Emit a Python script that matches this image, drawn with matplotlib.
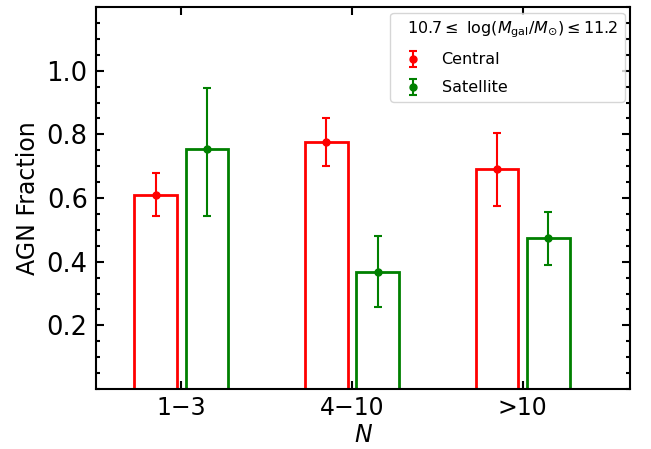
import matplotlib
matplotlib.use("Agg")
import matplotlib.pyplot as plt
import numpy as np
from matplotlib.ticker import MultipleLocator

categories = ["1\u22123", "4\u221210", ">10"]
central = [0.610, 0.777, 0.690]
central_lo = [0.542, 0.701, 0.575]
central_hi = [0.678, 0.851, 0.804]
satellite = [0.753, 0.369, 0.473]
satellite_lo = [0.544, 0.259, 0.391]
satellite_hi = [0.946, 0.480, 0.556]

x = np.arange(len(categories))
w = 0.25
off = 0.15

fig = plt.figure(figsize=(6.51, 4.49), dpi=100)
ax = fig.add_axes([0.1475, 0.1336, 0.8205, 0.8508])

c = np.array(central); s = np.array(satellite)
ax.bar(x - off, c, width=w, facecolor='none', edgecolor='red', linewidth=2)
ax.bar(x + off, s, width=w, facecolor='none', edgecolor='green', linewidth=2)
ax.errorbar(x - off, c, yerr=[c - np.array(central_lo), np.array(central_hi) - c],
            fmt='o', color='red', ms=5, capsize=3, elinewidth=1.5, capthick=1.5, label='Central')
ax.errorbar(x + off, s, yerr=[s - np.array(satellite_lo), np.array(satellite_hi) - s],
            fmt='o', color='green', ms=5, capsize=3, elinewidth=1.5, capthick=1.5, label='Satellite')

ax.set_xlim(-0.5, 2.63)
ax.set_ylim(0, 1.2)
ax.set_xticks(x)
ax.set_xticklabels(categories, fontsize=17)
ax.set_yticks([0.2, 0.4, 0.6, 0.8, 1.0])
ax.set_yticklabels(["0.2", "0.4", "0.6", "0.8", "1.0"], fontsize=18.5)
ax.yaxis.set_minor_locator(MultipleLocator(0.05))
ax.tick_params(which='both', direction='in', top=True, right=True, width=1.5)
ax.tick_params(which='major', length=6)
ax.tick_params(which='minor', length=3)
ax.tick_params(axis='y', which='major', pad=6)
ax.tick_params(axis='x', which='major', pad=5)
for sp in ax.spines.values():
    sp.set_linewidth(1.5)
ax.set_xlabel(r"$N$", fontsize=17, labelpad=2)
ax.set_ylabel("AGN Fraction", fontsize=17, labelpad=4.5)
leg = ax.legend(loc='upper right', fontsize=11.5, alignment='left',
                title="  " + r"$10.7\leq\ \log(M_{\rm gal}/M_{\odot})\leq 11.2$",
                title_fontsize=11.5, labelspacing=0.8, borderpad=0.4,
                borderaxespad=0.35)
fig.savefig("out.png", dpi=100)
